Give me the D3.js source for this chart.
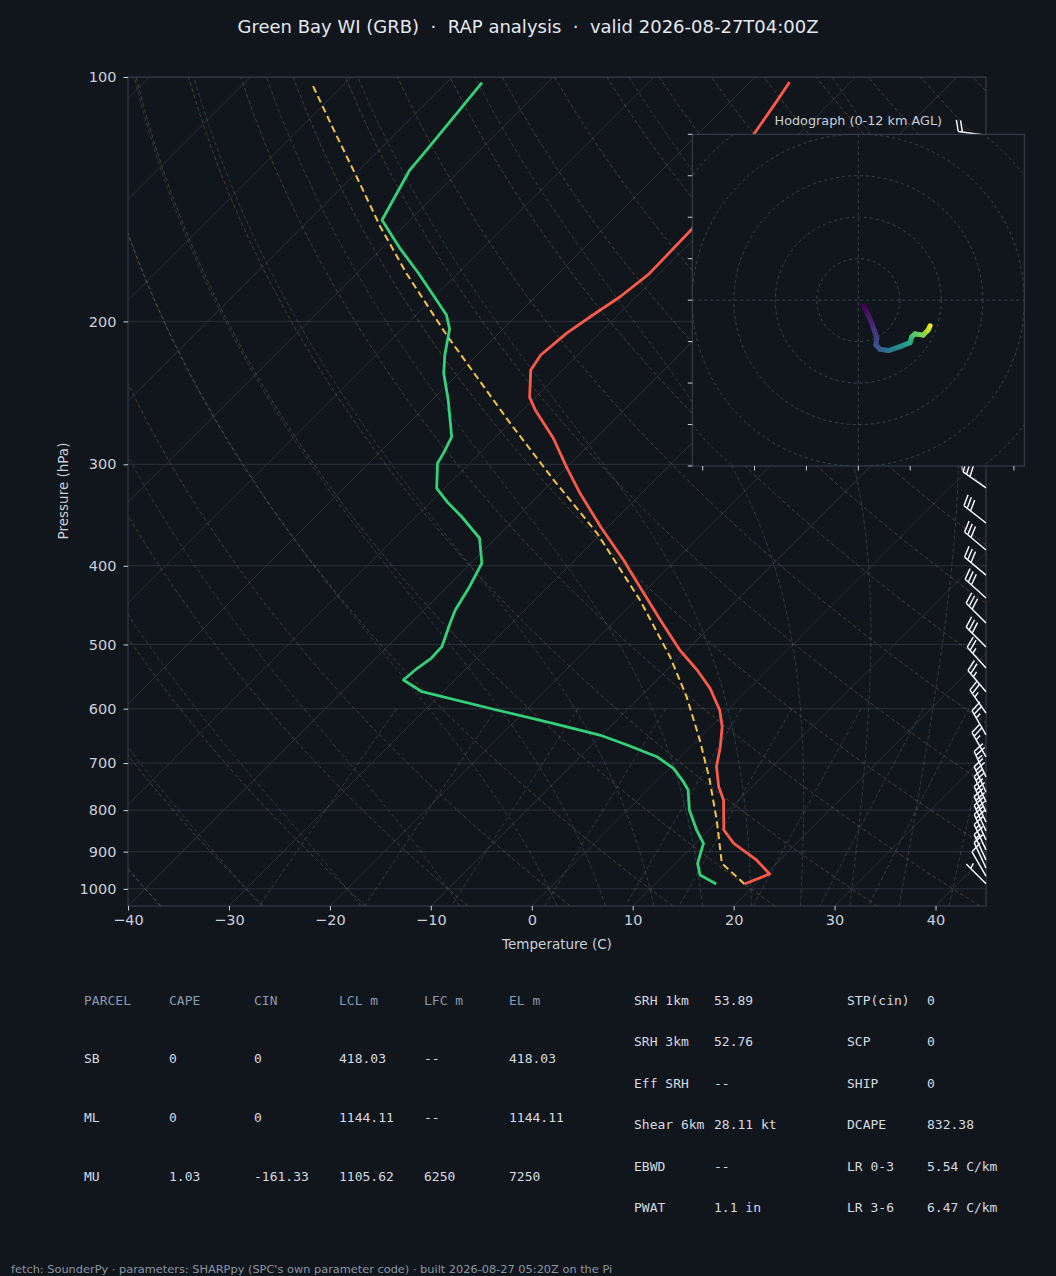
<!DOCTYPE html>
<html>
<head>
<meta charset="utf-8">
<script src="https://cdn.jsdelivr.net/npm/d3@7"></script>
<style>
  html, body { margin: 0; padding: 0; background: #11151c; }
  svg { display: block; }
</style>
</head>
<body>
<svg id="chart" width="1056" height="1276"></svg>
<script>
// ---- sounding data (hPa, degC) ----
const tempP = [101.4, 106.7, 117.2, 154.0, 174.8, 186.5, 196.4, 206.9, 220.0, 229.6, 248.1, 257.1, 278.6, 302.0, 325.7, 359.7, 395.4, 404.9, 466.5, 508.0, 537.6, 566.3, 602.2, 631.4, 668.3, 707.3, 748.6, 777.3, 846.4, 879.0, 921.5, 958.9, 986.5];
const tempC = [-56.1, -55.5, -54.5, -51.2, -51.0, -51.6, -52.5, -53.3, -53.7, -53.2, -50.6, -48.8, -44.2, -40.1, -36.1, -30.5, -24.9, -23.6, -15.6, -10.7, -7.0, -3.9, -0.8, 1.1, 2.9, 4.5, 6.7, 8.5, 11.5, 13.8, 17.7, 20.4, 18.9];

const dewP = [101.6, 123.0, 130.2, 150.0, 162.6, 174.5, 196.4, 204.4, 220.0, 231.7, 250.0, 277.6, 290.8, 299.1, 321.1, 333.8, 348.1, 370.0, 397.2, 424.5, 453.5, 470.9, 503.2, 520.1, 535.0, 553.1, 571.8, 602.2, 625.4, 646.5, 665.0, 687.5, 710.5, 738.0, 755.6, 799.7, 846.4, 879.0, 904.2, 930.2, 961.6, 986.5];
const dewC = [-86.5, -85.3, -85.0, -82.8, -78.2, -73.9, -67.0, -65.3, -63.2, -61.5, -58.4, -54.4, -53.6, -53.2, -50.8, -48.4, -45.5, -41.6, -38.9, -37.8, -36.9, -36.1, -34.6, -34.5, -34.9, -35.1, -32.1, -22.9, -16.0, -10.2, -6.5, -2.4, 0.4, 2.7, 4.0, 6.1, 8.8, 10.8, 11.5, 12.2, 13.6, 16.1];

const parcelP = [986.5, 930.2, 822.7, 732.0, 655.7, 579.9, 517.7, 440.8, 364.5, 312.8, 266.4, 207.9, 174.5, 152.9, 132.7, 116.2, 101.8];
const parcelC = [18.9, 14.6, 9.8, 5.0, 0.2, -5.4, -11.0, -19.6, -30.5, -40.2, -50.1, -65.0, -75.1, -82.3, -89.6, -96.5, -103.3];

// wind barbs: pressure (hPa), speed (kt), direction (deg from)
const barbP   = [986, 964.5, 942.6, 921.4, 895.6, 870.5, 848.6, 827.3, 804.1, 781.6, 759.8, 728.1, 687.7, 646.3, 607.5, 572.0, 534.5, 503.6, 470.5, 438.3, 410.7, 382.5, 354.3, 320.8, 295, 270, 245, 220, 200, 180, 160, 140, 118];
const barbSpd = [5, 10, 12, 15, 17, 18, 20, 20, 20, 22, 22, 25, 25, 25, 25, 25, 25, 28, 28, 30, 30, 30, 30, 32, 32, 34, 35, 36, 37, 35, 30, 25, 20];
const barbDir = [315, 330, 335, 335, 335, 335, 335, 335, 335, 335, 335, 335, 330, 330, 325, 320, 318, 315, 315, 312, 310, 310, 308, 305, 300, 298, 295, 292, 290, 288, 285, 282, 278];

// hodograph (kt) coloured by height AGL (km)
const hodoU = [2.75, 4.7, 6.5, 7.8, 8.9, 8.5, 10.5, 14.5, 20.1, 24.9, 25.7, 27.3, 31.3, 33.7, 34.6];
const hodoV = [-2.8, -7.1, -11.1, -14.8, -18.4, -21.6, -23.7, -24.3, -22.4, -20.5, -17.7, -16.3, -16.8, -14.4, -12.4];
const hodoH = [0, 0.6, 1.2, 1.8, 2.3, 2.8, 3.5, 4.6, 6.0, 7.3, 8.2, 8.9, 9.7, 10.8, 12.0];

// tick labels
const pressureTicks = [100, 200, 300, 400, 500, 600, 700, 800, 900, 1000];
const tempTicks = [-40, -30, -20, -10, 0, 10, 20, 30, 40];

// parameter table
const parcelHeader = ["PARCEL", "CAPE", "CIN", "LCL m", "LFC m", "EL m"];
const parcelRows = [
  ["SB", "0", "0", "418.03", "--", "418.03"],
  ["ML", "0", "0", "1144.11", "--", "1144.11"],
  ["MU", "1.03", "-161.33", "1105.62", "6250", "7250"]
];
const kinLabels = ["SRH 1km", "SRH 3km", "Eff SRH", "Shear 6km", "EBWD", "PWAT"];
const kinValues = ["53.89", "52.76", "--", "28.11 kt", "--", "1.1 in"];
const thermLabels = ["STP(cin)", "SCP", "SHIP", "DCAPE", "LR 0-3", "LR 3-6"];
const thermValues = ["0", "0", "0", "832.38", "5.54 C/km", "6.47 C/km"];

// ---- layout ----
const BG = "#11151c";
const plot = { left: 128, top: 77, right: 986, bottom: 906 };
const svg = d3.select("#chart");
svg.append("rect").attr("width", 1056).attr("height", 1276).attr("fill", BG);

const y = d3.scaleLog().domain([1050, 100]).range([plot.bottom, plot.top]);
const x = d3.scaleLinear().domain([-40, 45]).range([plot.left, plot.right]);
// 45 degree skew in screen space
const skew = (t, p) => x(t) + (plot.bottom - y(p));
const pline = d3.line().x(d => skew(d[1], d[0])).y(d => y(d[0]));

const defs = svg.append("defs");
defs.append("clipPath").attr("id", "plotclip")
  .append("rect").attr("x", plot.left).attr("y", plot.top)
  .attr("width", plot.right - plot.left).attr("height", plot.bottom - plot.top);

const g = svg.append("g").attr("clip-path", "url(#plotclip)");

// grid: isobars and skewed isotherms
g.selectAll(".isobar").data(pressureTicks).enter().append("line")
  .attr("x1", plot.left).attr("x2", plot.right)
  .attr("y1", d => y(d)).attr("y2", d => y(d))
  .attr("stroke", "#2a313b").attr("stroke-width", 1);

g.selectAll(".isotherm").data(d3.range(-130, 50, 10)).enter().append("line")
  .attr("x1", d => skew(d, 1050)).attr("y1", y(1050))
  .attr("x2", d => skew(d, 100)).attr("y2", y(100))
  .attr("stroke", "#2a313b").attr("stroke-width", 1);

// thermodynamic reference lines
const Rd = 287.04749, Cp = 1004.6662, Lv = 2.50084e6, eps = 0.622, kappa = Rd / Cp;
const satVap = tc => 6.112 * Math.exp(17.67 * tc / (tc + 243.5));
const satMix = (p, tc) => { const e = satVap(tc); return eps * e / (p - e); };
function dTdp(p, tk) {
  const rs = satMix(p, tk - 273.15);
  return (Rd * tk + Lv * rs) / (Cp + Lv * Lv * rs * eps / (Rd * tk * tk)) / p;
}
function rk4(p, t, h) {
  const k1 = dTdp(p, t);
  const k2 = dTdp(p + h / 2, t + h / 2 * k1);
  const k3 = dTdp(p + h / 2, t + h / 2 * k2);
  const k4 = dTdp(p + h, t + h * k3);
  return t + h / 6 * (k1 + 2 * k2 + 2 * k3 + k4);
}
function moistAdiabat(t0) {
  const up = [[1000, t0]];
  let t = t0 + 273.15, p = 1000;
  while (p > 100) { const h = Math.max(-5, 100 - p); t = rk4(p, t, h); p += h; up.push([p, t - 273.15]); }
  const down = [];
  t = t0 + 273.15; p = 1000;
  while (p < 1050) { const h = Math.min(5, 1050 - p); t = rk4(p, t, h); p += h; down.push([p, t - 273.15]); }
  return down.reverse().concat(up);
}
const presLevels = d3.range(1050, 99, -10).concat([100]);

const dryT0 = d3.range(-40, 241, 10);
g.selectAll(".dry").data(dryT0).enter().append("path")
  .attr("d", t0 => pline(presLevels.map(p => [p, (t0 + 273.15) * Math.pow(p / 1000, kappa) - 273.15])))
  .attr("fill", "none").attr("stroke", "#cf9051").attr("stroke-opacity", 0.32)
  .attr("stroke-width", 1).attr("stroke-dasharray", "4,2.5");

const moistT0 = d3.range(-40, 0, 10).concat(d3.range(0, 46, 5));
g.selectAll(".moist").data(moistT0).enter().append("path")
  .attr("d", t0 => pline(moistAdiabat(t0)))
  .attr("fill", "none").attr("stroke", "#6b8fa0").attr("stroke-opacity", 0.32)
  .attr("stroke-width", 1).attr("stroke-dasharray", "4,2.5");

const mixRatios = [0.0004, 0.001, 0.002, 0.004, 0.007, 0.01, 0.016, 0.024, 0.032];
const mixLevels = d3.range(600, 1051, 10);
g.selectAll(".mix").data(mixRatios).enter().append("path")
  .attr("d", w => pline(mixLevels.map(p => {
    const e = w * p / (eps + w);
    const l = Math.log(e / 6.112);
    return [p, 243.5 * l / (17.67 - l)];
  })))
  .attr("fill", "none").attr("stroke", "#6b8fa0").attr("stroke-opacity", 0.32)
  .attr("stroke-width", 1).attr("stroke-dasharray", "4,2.5");

// profiles
g.append("path").datum(parcelP.map((p, i) => [p, parcelC[i]]))
  .attr("d", pline).attr("fill", "none").attr("stroke", "#f5c542")
  .attr("stroke-width", 2).attr("stroke-dasharray", "7,4");
g.append("path").datum(tempP.map((p, i) => [p, tempC[i]]))
  .attr("d", pline).attr("fill", "none").attr("stroke", "#fa5b49")
  .attr("stroke-width", 2.8).attr("stroke-linejoin", "round");
g.append("path").datum(dewP.map((p, i) => [p, dewC[i]]))
  .attr("d", pline).attr("fill", "none").attr("stroke", "#33d17a")
  .attr("stroke-width", 2.8).attr("stroke-linejoin", "round");

// frame
svg.append("rect").attr("x", plot.left).attr("y", plot.top)
  .attr("width", plot.right - plot.left).attr("height", plot.bottom - plot.top)
  .attr("fill", "none").attr("stroke", "#3a4350").attr("stroke-width", 1);

// axes
const tickColor = "#c9d1d9";
const xAxis = svg.append("g").attr("transform", `translate(0,${plot.bottom})`)
  .call(d3.axisBottom(x).tickValues(tempTicks).tickFormat(d3.format("d")).tickSize(4.5).tickPadding(4));
const yAxis = svg.append("g").attr("transform", `translate(${plot.left},0)`)
  .call(d3.axisLeft(y).tickValues(pressureTicks).tickFormat(d3.format("d")).tickSize(4.5).tickPadding(7));
[xAxis, yAxis].forEach(a => {
  a.select(".domain").remove();
  a.selectAll("line").attr("stroke", tickColor);
  a.selectAll("text").attr("fill", tickColor)
    .style("font-family", "DejaVu Sans, sans-serif").style("font-size", "14.5px");
});

svg.append("text").attr("x", 557).attr("y", 949).attr("text-anchor", "middle")
  .attr("fill", tickColor).style("font-family", "DejaVu Sans, sans-serif").style("font-size", "13.5px")
  .text("Temperature (C)");
svg.append("text").attr("transform", "translate(68,491) rotate(-90)").attr("text-anchor", "middle")
  .attr("fill", tickColor).style("font-family", "DejaVu Sans, sans-serif").style("font-size", "13.5px")
  .text("Pressure (hPa)");

svg.append("text").attr("x", 528).attr("y", 33).attr("text-anchor", "middle")
  .attr("fill", "#e4e9ee").style("font-family", "DejaVu Sans, sans-serif").style("font-size", "18px")
  .text("Green Bay WI (GRB)\u00a0\u00a0\u00b7\u00a0\u00a0RAP analysis\u00a0\u00a0\u00b7\u00a0\u00a0valid 2026-08-27T04:00Z");

// wind barbs at the right edge
function barbPath(x0, y0, spd, dir) {
  const L = 28, sp = 0.15 * L, fh = 0.4 * L, fw = 0.25 * L;
  const th = dir * Math.PI / 180;
  const s = [Math.sin(th), -Math.cos(th)];
  const f = [-s[1], s[0]];
  const at = o => [x0 + o * s[0], y0 + o * s[1]];
  let d = `M${x0},${y0}L${at(L)[0]},${at(L)[1]}`;
  let r = Math.round(spd / 5) * 5;
  const flags = Math.floor(r / 50); r -= flags * 50;
  const full = Math.floor(r / 10); r -= full * 10;
  const half = r >= 5;
  let off = L;
  for (let i = 0; i < flags; i++) {
    const a = at(off), b = at(off - fw);
    const tip = [a[0] + fh * f[0] - fw / 2 * s[0], a[1] + fh * f[1] - fw / 2 * s[1]];
    d += `M${a[0]},${a[1]}L${tip[0]},${tip[1]}L${b[0]},${b[1]}Z`;
    off -= fw + sp;
  }
  for (let i = 0; i < full; i++) {
    const a = at(off);
    d += `M${a[0]},${a[1]}L${a[0] + fh * f[0] + fw / 2 * s[0]},${a[1] + fh * f[1] + fw / 2 * s[1]}`;
    off -= sp;
  }
  if (half) {
    if (off === L) off -= 1.5 * sp;
    const a = at(off);
    d += `M${a[0]},${a[1]}L${a[0] + fh / 2 * f[0] + fw / 4 * s[0]},${a[1] + fh / 2 * f[1] + fw / 4 * s[1]}`;
  }
  return d;
}
svg.append("g").selectAll("path").data(barbP).enter().append("path")
  .attr("d", (p, i) => barbPath(plot.right, y(p), barbSpd[i], barbDir[i]))
  .attr("fill", "none").attr("stroke", "#f2f4f7").attr("stroke-width", 1.5)
  .attr("stroke-linejoin", "miter");

// ---- hodograph inset ----
const hb = { left: 692.3, right: 1024.3, top: 134.3, bottom: 466 };
const hx = d3.scaleLinear().domain([-80, 80]).range([hb.left, hb.right]);
const hy = d3.scaleLinear().domain([-80, 80]).range([hb.bottom, hb.top]);
const hodo = svg.append("g");
defs.append("clipPath").attr("id", "hodoclip").append("rect")
  .attr("x", hb.left).attr("y", hb.top).attr("width", hb.right - hb.left).attr("height", hb.bottom - hb.top);
hodo.append("rect").attr("x", hb.left).attr("y", hb.top)
  .attr("width", hb.right - hb.left).attr("height", hb.bottom - hb.top).attr("fill", BG);
const hg = hodo.append("g").attr("clip-path", "url(#hodoclip)");
hg.selectAll("circle").data([20, 40, 60, 80, 100, 120]).enter().append("circle")
  .attr("cx", hx(0)).attr("cy", hy(0)).attr("r", d => hx(d) - hx(0))
  .attr("fill", "none").attr("stroke", "#3a4654").attr("stroke-width", 1).attr("stroke-dasharray", "3,3");
hg.append("line").attr("x1", hb.left).attr("x2", hb.right).attr("y1", hy(0)).attr("y2", hy(0))
  .attr("stroke", "#3a4654").attr("stroke-dasharray", "3,3");
hg.append("line").attr("y1", hb.top).attr("y2", hb.bottom).attr("x1", hx(0)).attr("x2", hx(0))
  .attr("stroke", "#3a4654").attr("stroke-dasharray", "3,3");

hodoU.slice(1).forEach((u, i) => {
  const x1 = hx(hodoU[i]), y1 = hy(hodoV[i]), x2 = hx(hodoU[i + 1]), y2 = hy(hodoV[i + 1]);
  const grad = defs.append("linearGradient").attr("id", "hg" + i)
    .attr("gradientUnits", "userSpaceOnUse")
    .attr("x1", x1).attr("y1", y1).attr("x2", x2).attr("y2", y2);
  grad.append("stop").attr("offset", 0).attr("stop-color", d3.interpolateViridis(hodoH[i] / 12));
  grad.append("stop").attr("offset", 1).attr("stop-color", d3.interpolateViridis(hodoH[i + 1] / 12));
  hg.append("line").attr("x1", x1).attr("y1", y1).attr("x2", x2).attr("y2", y2)
    .attr("stroke", `url(#hg${i})`).attr("stroke-width", 5).attr("stroke-linecap", "round");
});

hodo.append("rect").attr("x", hb.left).attr("y", hb.top)
  .attr("width", hb.right - hb.left).attr("height", hb.bottom - hb.top)
  .attr("fill", "none").attr("stroke", "#3a4350");
hodo.selectAll(".ht").data(d3.range(-80, 81, 20)).enter().append("line")
  .attr("x1", hb.left).attr("x2", hb.left - 4.5).attr("y1", d => hy(d)).attr("y2", d => hy(d))
  .attr("stroke", tickColor);
hodo.selectAll(".hxt").data(d3.range(-75, 76, 25)).enter().append("line")
  .attr("y1", hb.bottom).attr("y2", hb.bottom + 4.5).attr("x1", d => hx(d)).attr("x2", d => hx(d))
  .attr("stroke", tickColor);
hodo.append("text").attr("x", hx(0)).attr("y", 124.5).attr("text-anchor", "middle")
  .attr("fill", "#c9d1d9").style("font-family", "DejaVu Sans, sans-serif").style("font-size", "12.8px")
  .text("Hodograph (0-12 km AGL)");

// ---- parameter table ----
const mono = "DejaVu Sans Mono, monospace";
const colX = [84, 169, 254, 339, 424, 509];
const rowY = [1058, 1117, 1176];
const tbl = svg.append("g").style("font-family", mono).style("font-size", "13px");
parcelHeader.forEach((h, i) => tbl.append("text").attr("x", colX[i]).attr("y", 1004.5).attr("fill", "#8a9ab0").text(h));
parcelRows.forEach((row, r) => row.forEach((v, i) =>
  tbl.append("text").attr("x", colX[i]).attr("y", rowY[r] + 4.5).attr("fill", "#d5dbe1").text(v)));
const kinY = [1000, 1041, 1083, 1124, 1166, 1207];
kinLabels.forEach((l, i) => {
  tbl.append("text").attr("x", 634).attr("y", kinY[i] + 4.5).attr("fill", "#d5dbe1").text(l);
  tbl.append("text").attr("x", 714).attr("y", kinY[i] + 4.5).attr("fill", "#d5dbe1").text(kinValues[i]);
  tbl.append("text").attr("x", 847).attr("y", kinY[i] + 4.5).attr("fill", "#d5dbe1").text(thermLabels[i]);
  tbl.append("text").attr("x", 927).attr("y", kinY[i] + 4.5).attr("fill", "#d5dbe1").text(thermValues[i]);
});

svg.append("text").attr("x", 11).attr("y", 1273).attr("fill", "#8a95a3")
  .style("font-family", "DejaVu Sans, sans-serif").style("font-size", "11.35px")
  .text("fetch: SounderPy \u00b7 parameters: SHARPpy (SPC's own parameter code) \u00b7 built 2026-08-27 05:20Z on the Pi");
</script>
</body>
</html>
